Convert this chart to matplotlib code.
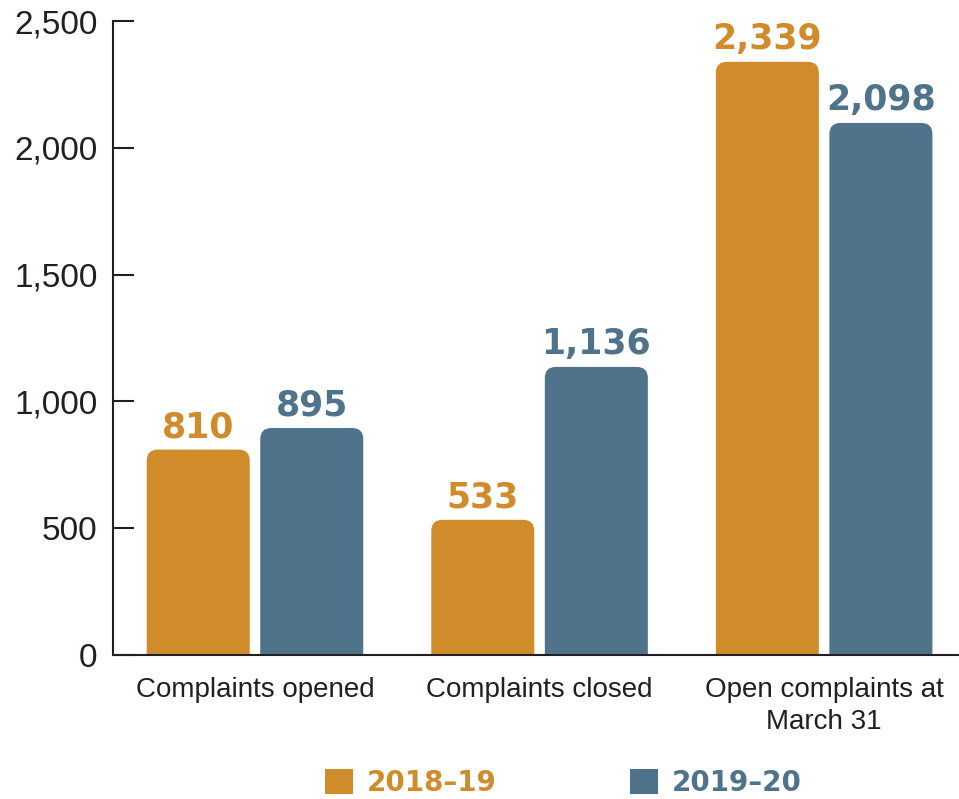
import numpy as np
import matplotlib
matplotlib.use('Agg')
import matplotlib.pyplot as plt
from matplotlib.patches import PathPatch, Patch
from matplotlib.path import Path

# Data
categories = ['Complaints opened', 'Complaints closed', 'Open complaints at\nMarch 31']
years = ['2018\u201319', '2019\u201320']
values_1819 = [810, 533, 2339]
values_1920 = [895, 1136, 2098]
yticks = [0, 500, 1000, 1500, 2000, 2500]

colors = ['#D08C2A', '#4E738A']
axis_color = '#231F20'

fig = plt.figure(figsize=(9.59, 7.99), dpi=100)
ax = fig.add_axes([113 / 959, 1 - 655 / 799, 1 - 113 / 959, (655 - 21) / 799])

x = np.arange(len(categories))
width = 0.362
offset = 0.1995
ax.set_xlim(-0.499, 2.474)
ax.set_ylim(0, 2500)

# rounded top corners: radius in px converted to data units
r_px = 11
rx = r_px / (846 / (2.474 + 0.499))
ry = r_px / (634 / 2500)


def top_rounded(x0, w, h):
    x1 = x0 + w
    verts = [(x0, 0), (x1, 0), (x1, h - ry), (x1, h), (x1 - rx, h),
             (x0 + rx, h), (x0, h), (x0, h - ry), (x0, 0)]
    codes = [Path.MOVETO, Path.LINETO, Path.LINETO, Path.CURVE3, Path.CURVE3,
             Path.LINETO, Path.CURVE3, Path.CURVE3, Path.CLOSEPOLY]
    return Path(verts, codes)


for vals, col, sgn in [(values_1819, colors[0], -1), (values_1920, colors[1], 1)]:
    bars = ax.bar(x + sgn * offset, vals, width, color='none', edgecolor='none')
    for b, v in zip(bars, vals):
        x0, w, h = b.get_x(), b.get_width(), b.get_height()
        ax.add_patch(PathPatch(top_rounded(x0, w, h), fc=col, ec='none'))
        ax.annotate(f'{v:,}', (x0 + w / 2, h), xytext=(0, 4), textcoords='offset points',
                    ha='center', va='bottom', color=col, fontsize=25,
                    fontweight='bold', family='DejaVu Sans')

ax.set_yticks(yticks)
ax.set_yticklabels([f'{t:,}' for t in yticks], fontsize=24, family='Liberation Sans',
                   color=axis_color)
ax.set_xticks(x)
ax.set_xticklabels(categories, fontsize=20, family='Liberation Sans', color=axis_color,
                   linespacing=1.3)
ax.tick_params(axis='y', direction='in', length=15, width=1.5, color=axis_color, pad=11)
ax.tick_params(axis='x', length=0, pad=16)

for s in ['top', 'right']:
    ax.spines[s].set_visible(False)
for s in ['left', 'bottom']:
    ax.spines[s].set_linewidth(1.5)
    ax.spines[s].set_color(axis_color)

handles = [Patch(fc=c, ec='none') for c in colors]
leg = fig.legend(handles, years, loc='center', bbox_to_anchor=(563.5 / 959, 1 - 783 / 799),
                 ncol=2, frameon=False, handlelength=1.0, handleheight=1.0,
                 handletextpad=0.5, columnspacing=4.8, borderpad=0,
                 prop={'family': 'DejaVu Sans', 'weight': 'bold', 'size': 20})
for t, c in zip(leg.get_texts(), colors):
    t.set_color(c)

fig.savefig('out.png', dpi=100)
